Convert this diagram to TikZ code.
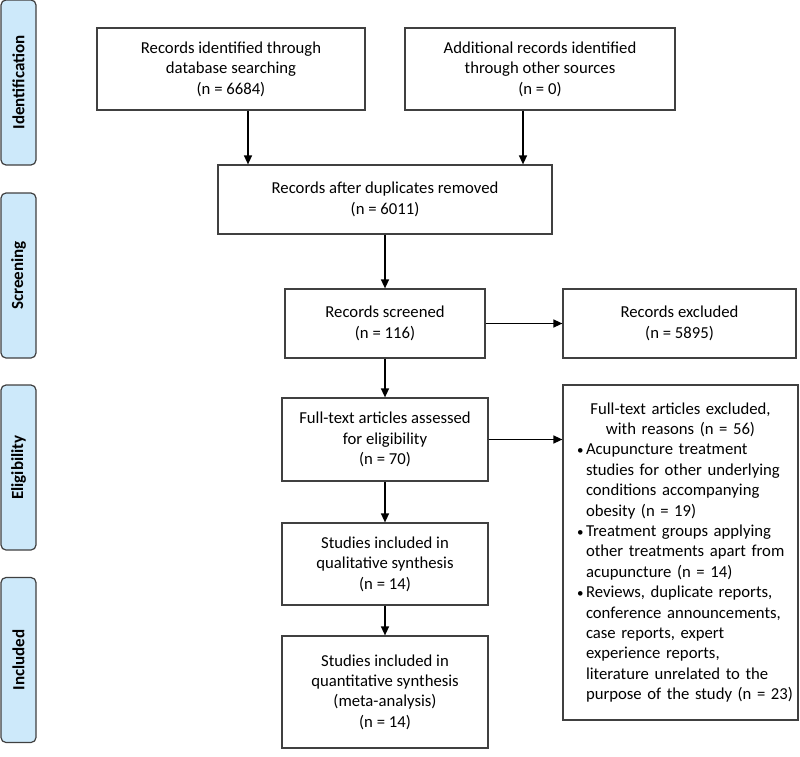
\documentclass[tikz,border=0pt]{standalone}
\usepackage{fontspec}
\setmainfont{Carlito}
\usepackage{tikz}
\usetikzlibrary{arrows.meta}
\usetikzlibrary{positioning}

\definecolor{stagefill}{RGB}{205,233,250}
\definecolor{boxline}{RGB}{64,64,64}

\tikzset{
    flowbox/.style={draw=boxline, line width=1.2pt, align=center, inner sep=0pt,
        font=\fontsize{16.7}{20.4}\selectfont},
    stagebox/.style={draw=boxline, line width=1.2pt, fill=stagefill, rounded corners=5pt,
        rotate=90, minimum width=165pt, minimum height=35pt, inner sep=0pt,
        font=\bfseries\fontsize{17}{20.4}\selectfont},
    flowarrow/.style={-{Triangle[length=9pt,width=8pt]}, line width=1.4pt}
}

% one bullet line of the exclusion reasons
\newcommand{\reason}[1]{\par\noindent\hangindent=22pt\hangafter=1\hspace*{13pt}\makebox[9pt][l]{\fontsize{13}{13}\selectfont\textbullet}{\let\\\newline #1}}

\begin{document}
\begin{tikzpicture}[x=1pt, y=-1pt]
        \useasboundingbox (0,0) rectangle (800,757);

        % Stage labels on the left
        \node[stagebox] (ident) at (18.5,82.5)  {Identification};
        \node[stagebox] (screen) at (18.5,275.5) {Screening};
        \node[stagebox] (elig)  at (18.5,467.5) {Eligibility};
        \node[stagebox] (incl)  at (18.5,660)   {Included};

        % Identification
        \node[flowbox, minimum width=268pt, minimum height=82pt] (dbsearch) at (231,69)
            {Records identified through\\ database searching\\ (n = 6684)};
        \node[flowbox, minimum width=270pt, minimum height=82pt] (othersrc) at (540,69)
            {Additional records identified\\ through other sources\\ (n = 0)};
        \node[flowbox, minimum width=334pt, minimum height=69pt] (dedup) at (385,199.5)
            {Records after duplicates removed\\ (n = 6011)};

        % Screening
        \node[flowbox, minimum width=200pt, minimum height=69pt] (screened) at (385,323.5)
            {Records screened\\ (n = 116)};
        \node[flowbox, minimum width=233pt, minimum height=69pt] (excluded) at (679.5,323.5)
            {Records excluded\\ (n = 5895)};

        % Eligibility
        \node[flowbox, align=left, text width=233pt, inner xsep=1pt, minimum height=335pt] (ftexcl) at (680.5,552.5) {%
            {\centering Full-text articles excluded,\\ with reasons (n = 56)\par}
            \raggedright
            \reason{Acupuncture treatment\\ studies for other underlying\\ conditions accompanying\\ obesity (n = 19)}
            \reason{Treatment groups applying\\ other treatments apart from\\ acupuncture (n = 14)}
            \reason{Reviews, duplicate reports,\\ conference announcements,\\ case reports, expert\\ experience reports,\\ literature unrelated to the\\ purpose of the study (n = 23)}\par};
        \node[flowbox, minimum width=206pt, minimum height=83pt] (fulltext) at (385,439.5)
            {Full-text articles assessed\\ for eligibility\\ (n = 70)};

        % Included
        \node[flowbox, minimum width=206pt, minimum height=82pt] (qual) at (385,564)
            {Studies included in\\ qualitative synthesis\\ (n = 14)};
        \node[flowbox, minimum width=206pt, minimum height=112pt] (quant) at (385,692)
            {Studies included in\\ quantitative synthesis\\ (meta-analysis)\\ (n = 14)};

        % Connectors
        \coordinate (dbout) at ([xshift=17pt]dbsearch.south);
        \coordinate (otherout) at ([xshift=-17pt]othersrc.south);
        \draw[flowarrow] (dbout) -- (dbout |- dedup.north);
        \draw[flowarrow] (otherout) -- (otherout |- dedup.north);
        \draw[flowarrow] (dedup.south) -- (screened.north);
        \draw[flowarrow] (screened.east) -- (excluded.west);
        \draw[flowarrow] (screened.south) -- (fulltext.north);
        \draw[flowarrow] (fulltext.east) -- (fulltext.east -| ftexcl.west);
        \draw[flowarrow] (fulltext.south) -- (qual.north);
        \draw[flowarrow] (qual.south) -- (quant.north);
\end{tikzpicture}
\end{document}
